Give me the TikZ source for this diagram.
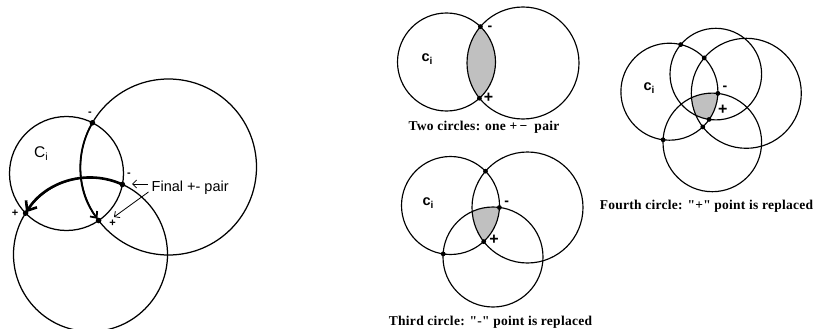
\documentclass[tikz,border=0pt]{standalone}
\usepackage{fontspec}
\setmainfont{Liberation Serif}
\newfontfamily\lsans{Liberation Sans}
\newfontfamily\capfont[LetterSpace=2]{Liberation Serif}
\usetikzlibrary{arrows.meta}
\definecolor{shadegray}{RGB}{192,192,192}
\begin{document}
\begin{tikzpicture}[x=1pt,y=-1pt,
  circ/.style={draw=black,line width=1.15pt},
  dotmark/.style={fill=black},
  sgn/.style={font=\lsans\bfseries\fontsize{14}{14}\selectfont,inner sep=0pt},
  sgnsmall/.style={font=\lsans\bfseries\fontsize{11}{11}\selectfont,inner sep=0pt},
  cilabel/.style={font=\lsans\bfseries\fontsize{14.5}{14.5}\selectfont,inner sep=0pt},
  caption/.style={font=\capfont\bfseries\fontsize{13.5}{13.5}\selectfont,inner sep=0pt,anchor=base},
  ptr/.style={draw=black,line width=0.8pt,-{Straight Barb[length=4pt,width=8pt]}}]
\useasboundingbox (0,0) rectangle (814,329);
% ---------------- Figure 1 ----------------
\coordinate (A1) at (66.5,173.5);
\coordinate (B1) at (168.5,167);
\coordinate (C1) at (90.5,254.5);
\coordinate (t1) at (92.4,122.8);
\coordinate (p1) at (98.6,220.5);
\coordinate (m1) at (122.4,184.5);
\coordinate (q1) at (25.6,213.1);
\begin{scope}
\clip (0,0) rectangle (814,329);
\draw[circ,line width=1.25pt] (A1) circle[radius=57];
\draw[circ,line width=1.25pt] (B1) circle[radius=88];
\draw[circ,line width=1.25pt] (C1) circle[radius=77];
\end{scope}
\draw[line width=1.8pt,-{Straight Barb[length=5pt,width=9pt]},shorten >=2pt] (t1) arc[start angle=210.1,end angle=142.6,radius=88];
\draw[line width=2.6pt,-{Straight Barb[length=8pt,width=13pt]},shorten >=1pt] (m1) arc[start angle=294.5,end angle=212.5,radius=77];
\foreach \p in {t1,p1,m1,q1} \fill[dotmark] (\p) circle[radius=2.8];
\node[font=\lsans\fontsize{15.5}{15.5}\selectfont,inner sep=0pt] (ci1) at (41,154) {C\raisebox{-3pt}{\fontsize{10.5}{10.5}\selectfont i}};
\node[sgnsmall] (l1a) at (90,114) {-};
\node[sgnsmall] (l1b) at (129,175) {-};
\node[sgnsmall] (l1c) at (15,213) {+};
\node[sgnsmall] (l1d) at (112.5,223) {+};
\node[font=\lsans\fontsize{14.5}{14.5}\selectfont,anchor=west,inner sep=0pt] (fin) at (151.5,188) {Final +- pair};
\coordinate (ptrA) at (132,184);
\coordinate (ptrB) at (114,217);
\draw[ptr] ([xshift=-4pt,yshift=4pt]fin.west) -- (ptrA);
\draw[ptr] ([xshift=-3pt,yshift=-4pt]fin.west) -- (ptrB);
% ---------------- Figure 2 ----------------
\coordinate (A2) at (446.5,62);
\coordinate (B2) at (523,63);
\begin{scope}
\clip (A2) circle[radius=49];
\fill[shadegray] (B2) circle[radius=56];
\end{scope}
\draw[circ] (A2) circle[radius=49];
\draw[circ] (B2) circle[radius=56];
\coordinate (t2) at (480.4,26.6);
\coordinate (p2) at (479.4,98.2);
\foreach \p in {t2,p2} \fill[dotmark] (\p) circle[radius=2.4];
\node[cilabel] (ci2) at (427,59) {c\raisebox{-3pt}{\fontsize{10}{10}\selectfont i}};
\node[sgn] (l2a) at (490,28.5) {-};
\node[sgn,font=\lsans\bfseries\fontsize{16}{16}\selectfont] (l2b) at (488.5,98) {+};
\node[caption] (cap2) at (484,130.5) {Two circles: one +\,−\ \ pair};
% ---------------- Figure 3 ----------------
\coordinate (A3) at (450.5,205.5);
\coordinate (B3) at (527.5,207.5);
\coordinate (C3) at (493,257);
\begin{scope}
\clip (A3) circle[radius=49];
\clip (B3) circle[radius=55.5];
\fill[shadegray] (C3) circle[radius=50];
\end{scope}
\draw[circ] (A3) circle[radius=49];
\draw[circ] (B3) circle[radius=55.5];
\draw[circ] (C3) circle[radius=50];
\coordinate (t3) at (485.5,171.2);
\coordinate (m3) at (499.4,207.5);
\coordinate (p3) at (483.7,241.6);
\coordinate (q3) at (443.2,253.9);
\foreach \p in {t3,m3,p3,q3} \fill[dotmark] (\p) circle[radius=2.4];
\node[cilabel] (ci3) at (428,203) {c\raisebox{-3pt}{\fontsize{10}{10}\selectfont i}};
\node[sgn] (l3a) at (506.7,203.5) {-};
\node[sgn,font=\lsans\bfseries\fontsize{16}{16}\selectfont] (l3b) at (494,240) {+};
\node[caption] (cap3) at (490.5,325) {Third circle: "-" point is replaced};
% ---------------- Figure 4 ----------------
\coordinate (A4) at (669.4,91.7);
\coordinate (B4) at (715.8,74.1);
\coordinate (C4) at (746.3,93.3);
\coordinate (D4) at (712.3,142.4);
\begin{scope}
\clip (A4) circle[radius=48.5];
\clip (B4) circle[radius=45.8];
\clip (C4) circle[radius=55];
\fill[shadegray] (D4) circle[radius=49.3];
\end{scope}
\draw[circ] (A4) circle[radius=48.5];
\draw[circ] (B4) circle[radius=45.8];
\draw[circ] (C4) circle[radius=55];
\draw[circ] (D4) circle[radius=49.3];
\coordinate (d4a) at (680.7,44.6);
\coordinate (d4b) at (704.2,57.9);
\coordinate (m4) at (717.9,93.4);
\coordinate (p4) at (709.1,119.4);
\coordinate (d4c) at (702.8,126.9);
\coordinate (d4d) at (663.1,139.8);
\foreach \p in {d4a,d4b,m4,p4,d4c,d4d} \fill[dotmark] (\p) circle[radius=2.4];
\node[cilabel] (ci4) at (649,88) {c\raisebox{-3pt}{\fontsize{10}{10}\selectfont i}};
\node[sgn] (l4a) at (725,88.5) {-};
\node[sgn,font=\lsans\bfseries\fontsize{16}{16}\selectfont] (l4b) at (722.7,109.5) {+};
\node[caption] (cap4) at (706.5,209) {Fourth circle: "+" point is replaced};
\end{tikzpicture}
\end{document}
